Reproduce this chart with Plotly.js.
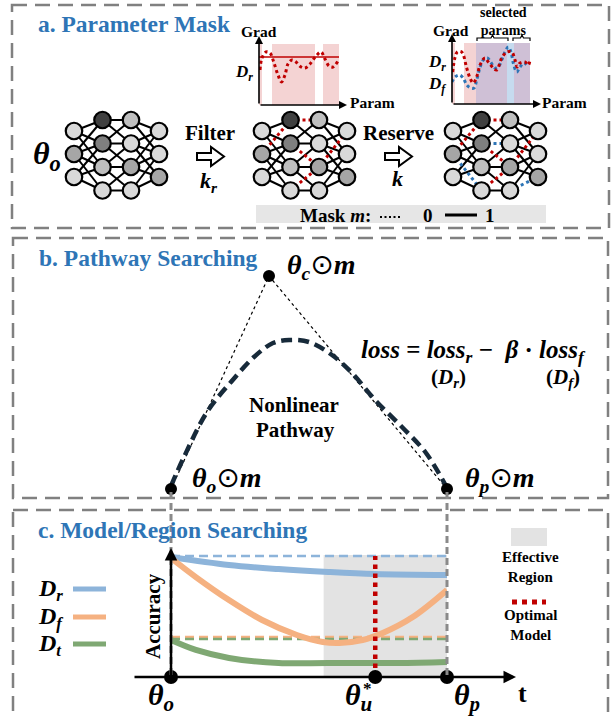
<!DOCTYPE html>
<html><head><meta charset="utf-8">
<script src="https://cdn.plot.ly/plotly-3.0.1.min.js"></script>
<style>html,body{margin:0;padding:0;background:#fff}#chart{width:613px;height:717px}</style>
</head><body><div id="chart"></div>
<script>
const W = 613, H = 717;
const SERIF = 'Liberation Serif, Times New Roman, serif';
const TITLE_BLUE = '#2e75b6';
const RED = '#c00000', BLUE = '#2e75b6';

// ---------------- Panel c data : accuracy along the path t ----------------
const tBlue = [0, 0.21, 0.39, 0.57, 0.74, 1.0];
const accBlue = [0.945, 0.882, 0.850, 0.827, 0.811, 0.803];
const tOrange = [0, 0.09, 0.21, 0.33, 0.456, 0.55, 0.61, 0.694, 0.767, 0.876, 1.0];
const accOrange = [0.937, 0.787, 0.606, 0.449, 0.331, 0.276, 0.268, 0.291, 0.346, 0.472, 0.685];
const tGreen = [0, 0.09, 0.21, 0.39, 0.57, 0.82, 1.0];
const accGreen = [0.291, 0.213, 0.150, 0.110, 0.110, 0.110, 0.118];
const refNames = ['D_r', 'D_f', 'D_t'];
const refLevels = [0.953, 0.315, 0.299];
const seriesColors = ['#8db4da', '#f5b181', '#7fa873'];
const markT = [0, 0.74, 1.0];
const optimalT = 0.74;
const effectiveRegion = [0.553, 1.0];

// ---------------- Panel a data : gradient curves ----------------
const g1Param = [1, 3, 7, 11, 15, 19, 22.5, 26, 29, 33, 37, 42, 46, 51, 57, 62, 66, 70, 74, 79];
const g1Grad  = [35, 47, 53, 52, 42, 30, 23, 30, 41, 45, 43, 38, 37, 41, 49, 53, 46, 39, 38, 44];
const g1Threshold = 48;
const g1Regions = [[0, 3], [13, 56], [64, 80]];

const g2ParamR = [0.7, 5.3, 9.7, 14.7, 18, 21.3, 25.3, 28, 33, 36.3, 41.3, 44.7, 49.7, 54.7, 59.7, 63, 65.3, 68, 73, 76.3, 78];
const g2GradR  = [32, 52, 52, 36, 26, 21, 29, 39, 46, 42, 36, 34, 46, 52, 52, 44, 37, 41, 42, 39, 44];
const g2ParamF = [0, 3, 7.3, 11.3, 14.7, 18.7, 22, 24.7, 27.3, 31.3, 35.3, 38.7, 43, 46.3, 49.7, 53, 56.3, 59, 61.3, 64.7, 68, 72, 76.3];
const g2GradF  = [22, 27, 29, 26, 19, 16, 16, 24, 34, 44, 46, 42, 36, 37, 44, 52, 57, 52, 41, 32, 37, 41, 37];
const g2Regions = [[0, 3, 'pink'], [12, 24, 'pink'], [24, 55, 'purple'], [55, 62, 'blue'], [62, 78, 'purple']];
const regionColors = {pink: '#f4d3d3', purple: '#cfc0d6', blue: '#c6dbef'};

// ---------------- Panel b data : pathway (pixel space) ----------------
const pathX = [171, 184, 207, 231, 254, 273, 289, 309, 332, 352, 375, 402, 426, 446];
const pathY = [486, 457, 412, 382, 357, 343, 340, 342, 355, 373, 400, 427, 453, 486];
const anchorX = [171, 269, 447];
const anchorY = [489, 276, 489];

// ---------------- Network diagram structure ----------------
const netOriginX = [74, 262, 453];
const colOffsetX = [0, 28.5, 57, 85];
const outerRowsY = [131, 154, 177];
const innerRowsY = [120, 143.5, 167, 190.5];
const nodeColors = [
  ['#d9d9d9', '#a6a6a6', '#d9d9d9'],
  ['#404040', '#7f7f7f', '#bfbfbf', '#d9d9d9'],
  ['#bfbfbf', '#d9d9d9', '#a6a6a6', '#d9d9d9'],
  ['#d9d9d9', '#d9d9d9', '#a6a6a6']
];
// masked edges: [layer, fromRow, toRow, colour]
const netMasks = [
  [],
  [[0, 1, 0, 'r'], [1, 0, 0, 'r'], [1, 1, 2, 'r'], [1, 3, 2, 'r'], [2, 2, 0, 'r']],
  [[0, 1, 0, 'r'], [0, 1, 3, 'b'], [1, 0, 0, 'r'], [1, 1, 1, 'b'], [1, 1, 2, 'r'], [1, 3, 2, 'r'], [2, 2, 0, 'r'], [2, 3, 2, 'b']]
];

// ================= build =================
const traces = [];
const shapes = [];
const ann = [];

// Panel boxes
const boxDash = '15px,8px';
[[12, 5, 609, 228], [13, 238, 608, 498], [13, 510, 608, 740]].forEach(b => {
  shapes.push({type: 'rect', xref: 'x', yref: 'y', x0: b[0], y0: b[1], x1: b[2], y1: b[3],
    line: {color: '#808080', width: 2.5, dash: boxDash}, fillcolor: 'rgba(0,0,0,0)'});
});

// Titles
[['a. Parameter Mask', 36, 24], ['b. Pathway Searching', 37, 258], ['c. Model/Region Searching', 36, 530]].forEach(t => {
  ann.push({xref: 'x', yref: 'y', x: t[1], y: t[2], xanchor: 'left', yanchor: 'middle', showarrow: false,
    text: '<b>' + t[0] + '</b>', font: {family: SERIF, size: 23.5, color: TITLE_BLUE}});
});

// ---- Networks ----
const colYs = [outerRowsY, innerRowsY, innerRowsY, outerRowsY];
netOriginX.forEach((ox, n) => {
  const solid = {x: [], y: []}, red = {x: [], y: []}, blue = {x: [], y: []};
  for (let L = 0; L < 3; L++) {
    const A = colYs[L], B = colYs[L + 1];
    A.forEach((ya, i) => B.forEach((yb, j) => {
      const ok = L === 1 ? Math.abs(i - j) <= 1 : Math.abs(ya - yb) <= 40;
      if (!ok) return;
      const m = netMasks[n].find(e => e[0] === L && e[1] === i && e[2] === j);
      const tgt = m ? (m[3] === 'r' ? red : blue) : solid;
      tgt.x.push(ox + colOffsetX[L], ox + colOffsetX[L + 1], null);
      tgt.y.push(ya, yb, null);
    }));
  }
  traces.push({x: solid.x, y: solid.y, xaxis: 'x', yaxis: 'y', mode: 'lines', line: {color: '#000', width: 2}, hoverinfo: 'skip'});
  traces.push({x: red.x, y: red.y, xaxis: 'x', yaxis: 'y', mode: 'lines', line: {color: RED, width: 3, dash: 'dot'}, hoverinfo: 'skip'});
  traces.push({x: blue.x, y: blue.y, xaxis: 'x', yaxis: 'y', mode: 'lines', line: {color: BLUE, width: 3, dash: 'dot'}, hoverinfo: 'skip'});
  const nx = [], ny = [], nc = [];
  colYs.forEach((rows, c) => rows.forEach((y, r) => { nx.push(ox + colOffsetX[c]); ny.push(y); nc.push(nodeColors[c][r]); }));
  traces.push({x: nx, y: ny, xaxis: 'x', yaxis: 'y', mode: 'markers', cliponaxis: false,
    marker: {size: 16.5, color: nc, line: {color: '#000', width: 2.2}}, hoverinfo: 'skip'});
});

// θo in panel a
ann.push({xref: 'x', yref: 'y', x: 47, y: 155, showarrow: false,
  text: '<b><i>θ<sub>o</sub></i></b>', font: {family: SERIF, size: 32, color: '#000'}});

// Filter / Reserve hollow arrows
shapes.push({type: 'path', xref: 'x', yref: 'y', path: 'M197,153 H211 V147 L224,156.5 L211,166 V160 H197 Z',
  line: {color: '#000', width: 2}, fillcolor: '#fff'});
shapes.push({type: 'path', xref: 'x', yref: 'y', path: 'M385,153 H399 V147 L412,156.5 L399,166 V160 H385 Z',
  line: {color: '#000', width: 2}, fillcolor: '#fff'});
ann.push({xref: 'x', yref: 'y', x: 210, y: 133, showarrow: false, text: '<b>Filter</b>', font: {family: SERIF, size: 21, color: '#000'}});
ann.push({xref: 'x', yref: 'y', x: 209, y: 182, showarrow: false, text: '<b><i>k<sub>r</sub></i></b>', font: {family: SERIF, size: 22, color: '#000'}});
ann.push({xref: 'x', yref: 'y', x: 398, y: 133, showarrow: false, text: '<b>Reserve</b>', font: {family: SERIF, size: 21, color: '#000'}});
ann.push({xref: 'x', yref: 'y', x: 397, y: 178, showarrow: false, text: '<b><i>k</i></b>', font: {family: SERIF, size: 22, color: '#000'}});

// Mask legend bar
shapes.push({type: 'rect', xref: 'x', yref: 'y', x0: 256, y0: 205, x1: 546, y1: 223, line: {width: 0}, fillcolor: '#e6e6e6', layer: 'below'});
ann.push({xref: 'x', yref: 'y', x: 335, y: 215, showarrow: false, text: '<b>Mask <i>m</i>:</b>', font: {family: SERIF, size: 19, color: '#000'}});
shapes.push({type: 'line', xref: 'x', yref: 'y', x0: 380, x1: 402, y0: 217, y1: 217, line: {color: '#000', width: 2, dash: '2px,2.5px'}});
ann.push({xref: 'x', yref: 'y', x: 428, y: 215, showarrow: false, text: '<b>0</b>', font: {family: SERIF, size: 19, color: '#000'}});
shapes.push({type: 'line', xref: 'x', yref: 'y', x0: 445, x1: 477, y0: 215, y1: 215, line: {color: '#000', width: 3}});
ann.push({xref: 'x', yref: 'y', x: 490, y: 215, showarrow: false, text: '<b>1</b>', font: {family: SERIF, size: 19, color: '#000'}});

// ---- Mini gradient chart 1 ----
g1Regions.forEach(r => shapes.push({type: 'rect', xref: 'x3', yref: 'y3', x0: r[0], x1: r[1], y0: 0, y1: 61,
  line: {width: 0}, fillcolor: regionColors.pink, layer: 'below'}));
traces.push({x: [0, 80], y: [g1Threshold, g1Threshold], xaxis: 'x3', yaxis: 'y3', mode: 'lines', line: {color: RED, width: 1.5}, hoverinfo: 'skip'});
traces.push({x: g1Param, y: g1Grad, xaxis: 'x3', yaxis: 'y3', mode: 'lines', line: {color: RED, width: 3, dash: 'dot', shape: 'spline'}, hoverinfo: 'skip'});
// ---- Mini gradient chart 2 ----
g2Regions.forEach(r => shapes.push({type: 'rect', xref: 'x4', yref: 'y4', x0: r[0], x1: r[1], y0: 0, y1: 61,
  line: {width: 0}, fillcolor: regionColors[r[2]], layer: 'below'}));
traces.push({x: g2ParamF, y: g2GradF, xaxis: 'x4', yaxis: 'y4', mode: 'lines', line: {color: BLUE, width: 3, dash: 'dot', shape: 'spline'}, hoverinfo: 'skip'});
traces.push({x: g2ParamR, y: g2GradR, xaxis: 'x4', yaxis: 'y4', mode: 'lines', line: {color: RED, width: 3, dash: 'dot', shape: 'spline'}, hoverinfo: 'skip'});

function arrow(x0, y0, x1, y1, w) {
  ann.push({xref: 'x', yref: 'y', axref: 'x', ayref: 'y', x: x1, y: y1, ax: x0, ay: y0, text: '',
    showarrow: true, arrowhead: 2, arrowsize: 1, arrowwidth: w, arrowcolor: '#000'});
}
arrow(259, 105, 259, 36, 1.6); arrow(259, 105, 347, 105, 1.6);
arrow(452, 104, 452, 34, 1.6); arrow(452, 104, 541, 104, 1.6);
ann.push({xref: 'x', yref: 'y', x: 259, y: 31, showarrow: false, text: '<b>Grad</b>', font: {family: SERIF, size: 15.5, color: '#000'}});
ann.push({xref: 'x', yref: 'y', x: 244, y: 73, showarrow: false, text: '<b><i>D<sub>r</sub></i></b>', font: {family: SERIF, size: 17, color: '#000'}});
ann.push({xref: 'x', yref: 'y', x: 372, y: 102, showarrow: false, text: '<b>Param</b>', font: {family: SERIF, size: 15.5, color: '#000'}});
ann.push({xref: 'x', yref: 'y', x: 451, y: 30, showarrow: false, text: '<b>Grad</b>', font: {family: SERIF, size: 15.5, color: '#000'}});
ann.push({xref: 'x', yref: 'y', x: 437, y: 63, showarrow: false, text: '<b><i>D<sub>r</sub></i></b>', font: {family: SERIF, size: 17, color: '#000'}});
ann.push({xref: 'x', yref: 'y', x: 437, y: 85, showarrow: false, text: '<b><i>D<sub>f</sub></i></b>', font: {family: SERIF, size: 17, color: '#000'}});
ann.push({xref: 'x', yref: 'y', x: 564, y: 102, showarrow: false, text: '<b>Param</b>', font: {family: SERIF, size: 15.5, color: '#000'}});
ann.push({xref: 'x', yref: 'y', x: 503, y: 21, showarrow: false, text: '<b>selected<br>params</b>', font: {family: SERIF, size: 14, color: '#000'}});
shapes.push({type: 'path', xref: 'x', yref: 'y', path: 'M477,41 V38 H491 L492.5,35 L494,38 H508 V41', line: {color: '#000', width: 1.2}});
shapes.push({type: 'path', xref: 'x', yref: 'y', path: 'M513,41 V38 H520.5 L522,35 L523.5,38 H530 V41', line: {color: '#000', width: 1.2}});

// ---- Panel b : pathway ----
traces.push({x: [anchorX[0], anchorX[1], anchorX[2]], y: [anchorY[0], anchorY[1], anchorY[2]], xaxis: 'x', yaxis: 'y',
  mode: 'lines', line: {color: '#000', width: 1.2, dash: 'dot'}, hoverinfo: 'skip'});
traces.push({x: pathX, y: pathY, xaxis: 'x', yaxis: 'y', mode: 'lines',
  line: {color: '#172a3a', width: 4.5, dash: '11px,6px', shape: 'spline'}, hoverinfo: 'skip'});
traces.push({x: anchorX, y: anchorY, xaxis: 'x', yaxis: 'y', mode: 'markers', cliponaxis: false,
  marker: {size: 12, color: '#000'}, hoverinfo: 'skip'});
const odot = '<span style="font-family:DejaVu Sans">⊙</span>';
ann.push({xref: 'x', yref: 'y', x: 321, y: 266, showarrow: false, text: '<b><i>θ<sub>c</sub></i></b>' + odot + '<b><i>m</i></b>', font: {family: SERIF, size: 28, color: '#000'}});
ann.push({xref: 'x', yref: 'y', x: 227, y: 479, showarrow: false, text: '<b><i>θ<sub>o</sub></i></b>' + odot + '<b><i>m</i></b>', font: {family: SERIF, size: 28, color: '#000'}});
ann.push({xref: 'x', yref: 'y', x: 500, y: 479, showarrow: false, text: '<b><i>θ<sub>p</sub></i></b>' + odot + '<b><i>m</i></b>', font: {family: SERIF, size: 28, color: '#000'}});
ann.push({xref: 'x', yref: 'y', x: 473, y: 351, showarrow: false,
  text: '<b><i>loss</i> = <i>loss<sub>r</sub></i> −  <i>β</i> · <i>loss<sub>f</sub></i></b>', font: {family: SERIF, size: 25, color: '#000'}});
ann.push({xref: 'x', yref: 'y', x: 448, y: 378, showarrow: false, text: '<b>(<i>D<sub>r</sub></i>)</b>', font: {family: SERIF, size: 21, color: '#000'}});
ann.push({xref: 'x', yref: 'y', x: 563, y: 378, showarrow: false, text: '<b>(<i>D<sub>f</sub></i>)</b>', font: {family: SERIF, size: 21, color: '#000'}});
ann.push({xref: 'x', yref: 'y', x: 294, y: 405, showarrow: false, text: '<b>Nonlinear</b>', font: {family: SERIF, size: 21, color: '#000'}});
ann.push({xref: 'x', yref: 'y', x: 295, y: 430, showarrow: false, text: '<b>Pathway</b>', font: {family: SERIF, size: 21, color: '#000'}});

// ---- Panel c ----
shapes.push({type: 'rect', xref: 'x2', yref: 'y2', x0: effectiveRegion[0], x1: effectiveRegion[1], y0: 0, y1: 0.96,
  line: {width: 0}, fillcolor: '#e3e3e3', layer: 'below'});
refLevels.forEach((lv, i) => traces.push({x: [0, 1], y: [lv, lv], xaxis: 'x2', yaxis: 'y2', mode: 'lines',
  line: {color: seriesColors[i], width: 2.5, dash: '9px,5px'}, hoverinfo: 'skip'}));
[[tBlue, accBlue], [tOrange, accOrange], [tGreen, accGreen]].forEach((s, i) => traces.push({x: s[0], y: s[1], xaxis: 'x2', yaxis: 'y2',
  mode: 'lines', line: {color: seriesColors[i], width: 6, shape: 'spline'}, cliponaxis: false, hoverinfo: 'skip'}));
traces.push({x: [optimalT, optimalT], y: [0, refLevels[0]], xaxis: 'x2', yaxis: 'y2', mode: 'lines',
  line: {color: RED, width: 4.5, dash: 'dot'}, hoverinfo: 'skip'});
// gray guide lines from panel b anchors
[anchorX[0], anchorX[2]].forEach(xv => shapes.push({type: 'line', xref: 'x', yref: 'y', x0: xv, x1: xv, y0: 492, y1: 677,
  line: {color: '#8a8a8a', width: 3, dash: '7px,4px'}}));
arrow(133, 677, 516, 677, 2.5);
arrow(171, 677, 171, 548, 2.5);
traces.push({x: markT, y: [0, 0, 0], xaxis: 'x2', yaxis: 'y2', mode: 'markers', cliponaxis: false,
  marker: {size: 14, color: '#000'}, hoverinfo: 'skip'});
ann.push({xref: 'x', yref: 'y', x: 161, y: 697, showarrow: false, text: '<b><i>θ<sub>o</sub></i></b>', font: {family: SERIF, size: 30, color: '#000'}});
ann.push({xref: 'x', yref: 'y', x: 358, y: 697, showarrow: false, text: '<b><i>θ<sub>u</sub></i></b>', font: {family: SERIF, size: 30, color: '#000'}});
ann.push({xref: 'x', yref: 'y', x: 367, y: 688, showarrow: false, text: '<b>*</b>', font: {family: SERIF, size: 17, color: '#000'}});
ann.push({xref: 'x', yref: 'y', x: 467, y: 697, showarrow: false, text: '<b><i>θ<sub>p</sub></i></b>', font: {family: SERIF, size: 30, color: '#000'}});
ann.push({xref: 'x', yref: 'y', x: 522, y: 693, showarrow: false, text: '<b>t</b>', font: {family: SERIF, size: 26, color: '#000'}});
ann.push({xref: 'x', yref: 'y', x: 153, y: 616, showarrow: false, textangle: -90, text: '<b>Accuracy</b>', font: {family: SERIF, size: 21, color: '#000'}});

// legend (left)
const legY = [589, 617, 644];
const legLabels = ['<b><i>D<sub>r</sub></i></b>', '<b><i>D<sub>f</sub></i></b>', '<b><i>D<sub>t</sub></i></b>'];
legY.forEach((y, i) => {
  shapes.push({type: 'line', xref: 'x', yref: 'y', x0: 73, x1: 106, y0: y, y1: y, line: {color: seriesColors[i], width: 5}});
  ann.push({xref: 'x', yref: 'y', x: 50, y: y + 1, showarrow: false, text: legLabels[i], font: {family: SERIF, size: 24, color: '#000'}});
});
// legend (right)
shapes.push({type: 'rect', xref: 'x', yref: 'y', x0: 511, x1: 547, y0: 528, y1: 546, line: {width: 0}, fillcolor: '#e3e3e3'});
ann.push({xref: 'x', yref: 'y', x: 530, y: 567, showarrow: false, text: '<b>Effective<br>Region</b>', font: {family: SERIF, size: 15, color: '#000'}});
shapes.push({type: 'line', xref: 'x', yref: 'y', x0: 512, x1: 546, y0: 602, y1: 602, line: {color: RED, width: 5, dash: 'dot'}});
ann.push({xref: 'x', yref: 'y', x: 530, y: 625, showarrow: false, text: '<b>Optimal<br>Model</b>', font: {family: SERIF, size: 15, color: '#000'}});

const hid = {visible: false, fixedrange: true, showgrid: false, zeroline: false};
const layout = {
  width: W, height: H, margin: {l: 0, r: 0, t: 0, b: 0},
  paper_bgcolor: '#fff', plot_bgcolor: 'rgba(0,0,0,0)', showlegend: false,
  xaxis: Object.assign({domain: [0, 1], range: [0, W], anchor: 'y'}, hid),
  yaxis: Object.assign({domain: [0, 1], range: [H, 0], anchor: 'x'}, hid),
  xaxis2: Object.assign({domain: [171 / W, 447 / W], range: [0, 1], anchor: 'y2'}, hid),
  yaxis2: Object.assign({domain: [(H - 677) / H, (H - 550) / H], range: [0, 1], anchor: 'x2'}, hid),
  xaxis3: Object.assign({domain: [259 / W, 345 / W], range: [0, 86], anchor: 'y3'}, hid),
  yaxis3: Object.assign({domain: [(H - 105) / H, (H - 37) / H], range: [0, 68], anchor: 'x3'}, hid),
  xaxis4: Object.assign({domain: [452 / W, 540 / W], range: [0, 88], anchor: 'y4'}, hid),
  yaxis4: Object.assign({domain: [(H - 104) / H, (H - 35) / H], range: [0, 69], anchor: 'x4'}, hid),
  shapes: shapes, annotations: ann
};
Plotly.newPlot('chart', traces, layout, {displayModeBar: false, staticPlot: true});
</script></body></html>
